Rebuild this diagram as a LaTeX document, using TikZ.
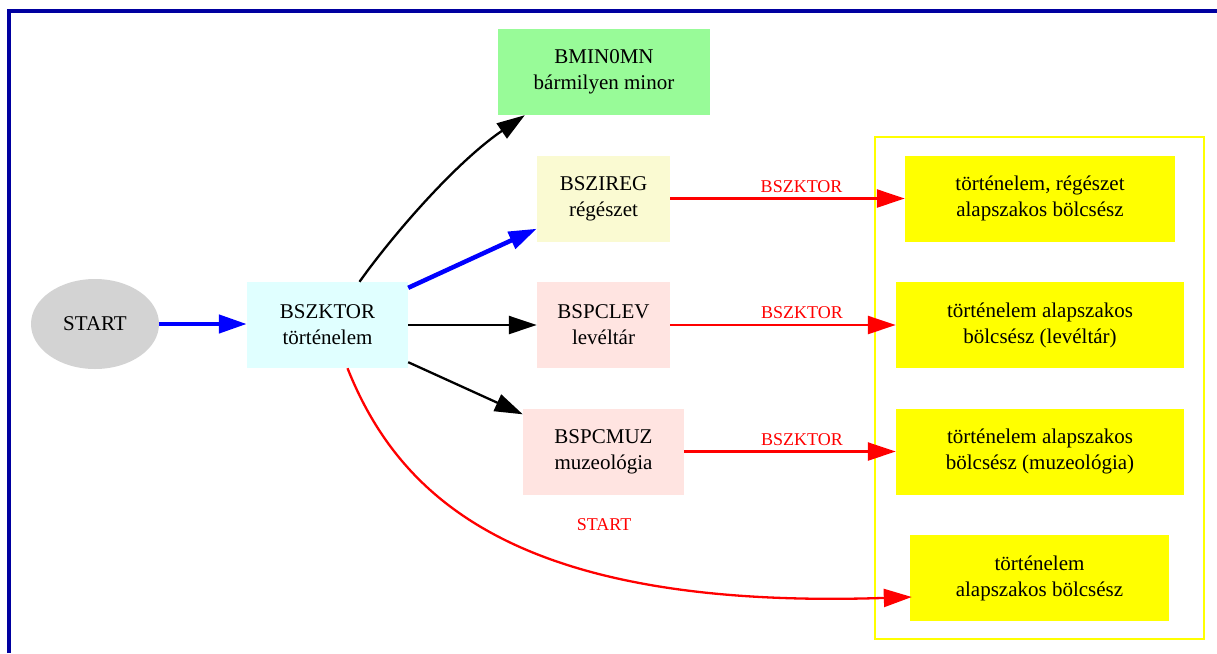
\documentclass[tikz,border=0pt]{standalone}
\usepackage{fontspec}
\setmainfont{Liberation Serif}
\usetikzlibrary{arrows.meta,calc,shapes.geometric}
\definecolor{frameblue}{RGB}{0,0,160}
\definecolor{gvgray}{RGB}{211,211,211}
\definecolor{gvcyan}{RGB}{224,255,255}
\definecolor{gvgreen}{RGB}{152,251,152}
\definecolor{gvgold}{RGB}{250,250,210}
\definecolor{gvrose}{RGB}{255,228,225}
\definecolor{gvyellow}{RGB}{255,255,0}
\definecolor{gvred}{RGB}{255,0,0}
\definecolor{gvblue}{RGB}{0,0,255}
\tikzset{
  nbox/.style={rectangle, inner sep=0pt, minimum height=86pt, align=center,
    font=\fontsize{21}{26}\selectfont},
  elabel/.style={text=gvred, inner sep=0pt, font=\fontsize{18}{21}\selectfont},
  tip/.style={-{Triangle[length=28pt,width=18pt]}},
  blackedge/.style={tip, draw=black, line width=2.3pt},
  blueedge/.style={tip, draw=gvblue, line width=4.5pt},
  rededge/.style={tip, draw=gvred, line width=2.3pt},
}
\begin{document}
\begin{tikzpicture}[x=1pt,y=-1pt]
\useasboundingbox (0,0) rectangle (1217,653);
% frame
\draw[frameblue, line width=4pt] (9,653) -- (9,11) -- (1217,11);
% cluster
\draw[gvyellow, line width=2pt] (875,137) rectangle (1204,639);
% nodes
\node[ellipse, fill=gvgray, minimum width=128pt, minimum height=90pt, inner sep=0pt,
  font=\fontsize{21}{26}\selectfont] (start) at (95,324) {START};
\node[nbox, fill=gvcyan, minimum width=161pt] (bszktor) at (327.5,325) {BSZKTOR\\történelem};
\node[nbox, fill=gvgreen, minimum width=212pt] (bmin) at (604,72) {BMIN0MN\\bármilyen minor};
\node[nbox, fill=gvgold, minimum width=133pt] (bszireg) at (603.5,198.5) {BSZIREG\\régészet};
\node[nbox, fill=gvrose, minimum width=133pt] (bspclev) at (603.5,325) {BSPCLEV\\levéltár};
\node[nbox, fill=gvrose, minimum width=161pt] (bspcmuz) at (603.5,451.5) {BSPCMUZ\\muzeológia};
\node[nbox, fill=gvyellow, minimum width=270pt] (t1) at (1040,198.5) {történelem, régészet\\alapszakos bölcsész};
\node[nbox, fill=gvyellow, minimum width=288pt] (t2) at (1040,325) {történelem alapszakos\\bölcsész (levéltár)};
\node[nbox, fill=gvyellow, minimum width=288pt] (t3) at (1040,451.5) {történelem alapszakos\\bölcsész (muzeológia)};
\node[nbox, fill=gvyellow, minimum width=259pt] (t4) at (1039.5,578) {történelem\\alapszakos bölcsész};
% edges
\draw[blueedge] (start.east) -- (start.east -| bszktor.west);
\draw[blackedge] ($(bszktor.north)+(32,0)$) .. controls (392,236) and (455,163) .. ($(bmin.south west)+(27,0)$);
\draw[blueedge] ($(bszktor.north east)+(0,6)$) -- ($(bszireg.south west)+(0,-13)$);
\draw[blackedge] (bszktor.east) -- (bspclev.west);
\draw[blackedge] ($(bszktor.south east)+(0,-6)$) -- ($(bspcmuz.north west)+(0,6)$);
\draw[rededge] ($(bszktor.south)+(20,0)$) .. controls (400,500) and (520,610) .. ($(t4.west)+(2,19)$);
\node[elabel] (lstart) at (604,525) {START};
\draw[rededge] (bszireg.east) -- node[elabel, pos=0.56, above=5pt] (l1) {BSZKTOR} (t1.west);
\draw[rededge] (bspclev.east) -- node[elabel, pos=0.584, above=5pt] (l2) {BSZKTOR} (t2.west);
\draw[rededge] (bspcmuz.east) -- node[elabel, pos=0.557, above=5pt] (l3) {BSZKTOR} (t3.west);
\end{tikzpicture}
\end{document}
